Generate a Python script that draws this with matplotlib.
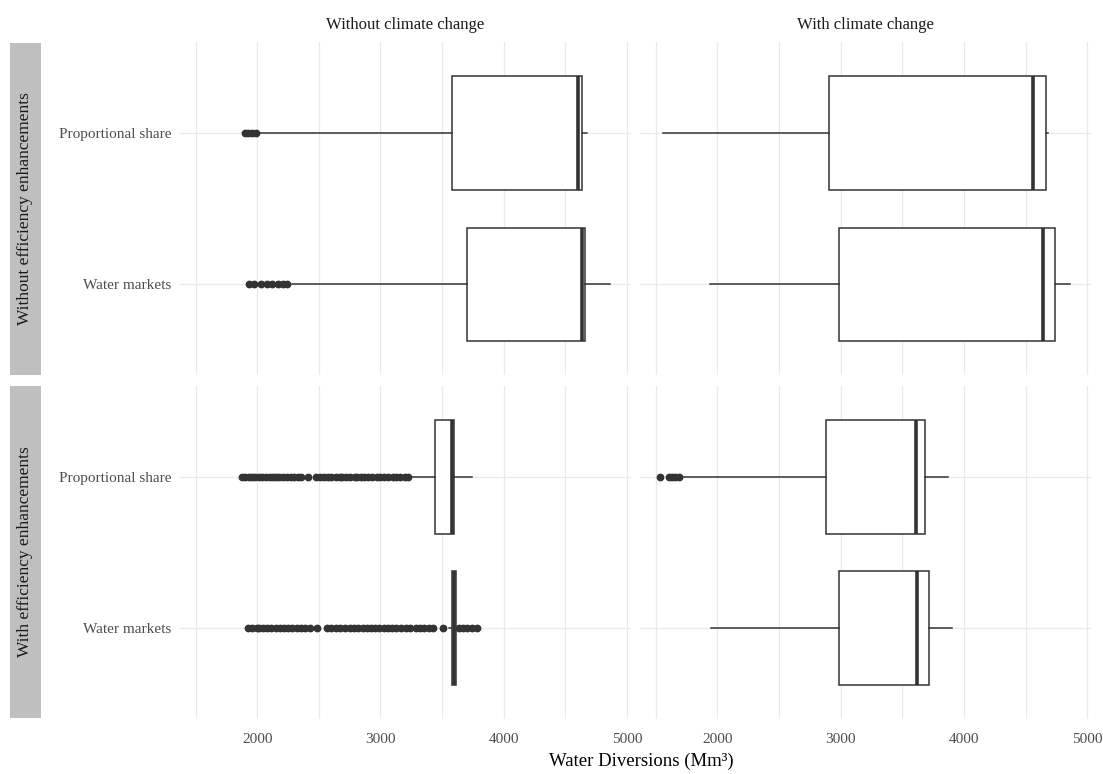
import matplotlib
matplotlib.use("Agg")
import matplotlib.pyplot as plt

plt.rcParams['font.family'] = ['Liberation Serif', 'DejaVu Serif']

W, H = 1103, 774

col_labels = ["Without climate change", "With climate change"]
row_labels = ["Without efficiency enhancements", "With efficiency enhancements"]
categories = ["Proportional share", "Water markets"]
x_major = [2000, 3000, 4000, 5000]
x_minor = [1500, 2500, 3500, 4500]

# Box statistics per panel (row, col); each list is [Proportional share, Water markets]
# Row 0 = without efficiency enhancements, row 1 = with; col 0 = without CC, col 1 = with CC
whisker_low = {(0, 0): [2010, 2280], (0, 1): [1557, 1941],
               (1, 0): [3240, 3560], (1, 1): [1700, 1946]}
q1 = {(0, 0): [3579, 3706], (0, 1): [2903, 2985],
      (1, 0): [3444, 3582], (1, 1): [2879, 2985]}
median = {(0, 0): [4603, 4638], (0, 1): [4563, 4644],
          (1, 0): [3583, 3597], (1, 1): [3614, 3622]}
q3 = {(0, 0): [4638, 4660], (0, 1): [4668, 4741],
      (1, 0): [3600, 3610], (1, 1): [3682, 3715]}
whisker_high = {(0, 0): [4680, 4863], (0, 1): [4685, 4861],
                (1, 0): [3741, 3630], (1, 1): [3873, 3906]}

# Outliers
out_noeff_nocc_prop = [1900, 1925, 1955, 1990]
out_noeff_nocc_mkt = [1930, 1975, 2030, 2075, 2120, 2165, 2210, 2245]
out_noeff_cc_prop = []
out_noeff_cc_mkt = []
out_eff_nocc_prop = [1875, 1900, 1930, 1960, 1985, 2010, 2040, 2070, 2100, 2125,
                     2150, 2180, 2210, 2240, 2270, 2300, 2330, 2355,
                     2410,
                     2480, 2510, 2540, 2570, 2600, 2635, 2670,
                     2690, 2720, 2750, 2790,
                     2810, 2840, 2870, 2900, 2935, 2970, 3000, 3030, 3065,
                     3100, 3130, 3160, 3195, 3225]
out_eff_nocc_mkt = [1925, 1960, 1995,
                    2015, 2045, 2080, 2110, 2150, 2185,
                    2215, 2250, 2285, 2320, 2355, 2390, 2430,
                    2484,
                    2565, 2600, 2635, 2670, 2710, 2750,
                    2785, 2820, 2855, 2890,
                    2920, 2955, 2990, 3025, 3060, 3095, 3130, 3170, 3205, 3240,
                    3285, 3320, 3355, 3390, 3430,
                    3511,
                    3635, 3670, 3705, 3745, 3780]
out_eff_cc_prop = [1535, 1605, 1630, 1660, 1690]
out_eff_cc_mkt = []

outliers = {(0, 0): [out_noeff_nocc_prop, out_noeff_nocc_mkt],
            (0, 1): [out_noeff_cc_prop, out_noeff_cc_mkt],
            (1, 0): [out_eff_nocc_prop, out_eff_nocc_mkt],
            (1, 1): [out_eff_cc_prop, out_eff_cc_mkt]}

# shared x range (ggplot-like 5% expansion)
all_vals = []
for k in whisker_low:
    all_vals += whisker_low[k] + whisker_high[k]
    for o in outliers[k]:
        all_vals += o
lo, hi = min(all_vals), max(all_vals)
pad = 0.05 * (hi - lo)
xlim = (lo - pad, hi + pad)

fig = plt.figure(figsize=(W / 100, H / 100), dpi=100)

col_px = [(179.5, 630.5), (639.5, 1090.8)]
row_px = [(42.3, 375.3), (386.0, 719.0)]

dark = '#333333'
grid_c = '#e9e9e9'
positions = [2, 1]

for r in range(2):
    for c in range(2):
        x0, x1 = col_px[c]
        y0, y1 = row_px[r]
        ax = fig.add_axes([x0 / W, 1 - y1 / H, (x1 - x0) / W, (y1 - y0) / H])
        key = (r, c)
        stats = []
        for i in range(2):
            stats.append(dict(whislo=whisker_low[key][i], q1=q1[key][i], med=median[key][i],
                              q3=q3[key][i], whishi=whisker_high[key][i],
                              fliers=outliers[key][i], label=categories[i]))
        ax.bxp(stats, positions=positions, widths=0.75, orientation='horizontal',
               showcaps=False, patch_artist=True, manage_ticks=False,
               boxprops=dict(facecolor='white', edgecolor=dark, linewidth=1.1),
               medianprops=dict(color=dark, linewidth=2.6, solid_capstyle='butt'),
               whiskerprops=dict(color=dark, linewidth=1.1),
               flierprops=dict(marker='o', markerfacecolor=dark, markeredgecolor=dark,
                               markersize=4.6, linestyle='none'),
               zorder=3)
        ax.set_xlim(*xlim)
        ax.set_ylim(0.4, 2.6)
        ax.set_xticks(x_major)
        ax.set_xticks(x_minor, minor=True)
        ax.set_yticks(positions)
        ax.grid(which='major', color=grid_c, linewidth=0.9, zorder=0)
        ax.grid(which='minor', axis='x', color=grid_c, linewidth=0.9, zorder=0)
        ax.set_axisbelow(True)
        for s in ax.spines.values():
            s.set_visible(False)
        ax.tick_params(which='both', length=0)
        ax.tick_params(axis='x', pad=10, labelsize=11, labelcolor='#4d4d4d')
        ax.tick_params(axis='y', pad=6, labelsize=11, labelcolor='#4d4d4d')
        if c == 0:
            ax.set_yticklabels(categories)
        else:
            ax.set_yticklabels([])
        if r == 1:
            ax.set_xticklabels([str(v) for v in x_major])
        else:
            ax.set_xticklabels([])

# column strips (top)
for c in range(2):
    x0, x1 = col_px[c]
    fig.text((x0 + x1) / 2 / W, 1 - 25 / H, col_labels[c], ha='center', va='center',
             fontsize=12, color='#1a1a1a')

# row strips (left, grey)
strip_rows = [(43, 375), (386, 718)]
for r in range(2):
    y0, y1 = strip_rows[r]
    sax = fig.add_axes([10 / W, 1 - y1 / H, 31 / W, (y1 - y0) / H])
    sax.set_facecolor('#bfbfbf')
    sax.set_xticks([])
    sax.set_yticks([])
    for s in sax.spines.values():
        s.set_visible(False)
    sax.text(0.5, 0.5, row_labels[r], rotation=90, ha='center', va='center',
             fontsize=12.5, color='#1a1a1a', transform=sax.transAxes)

fig.text(641 / W, 1 - 761 / H, "Water Diversions (Mm³)", ha='center', va='center',
         fontsize=13.5, color='#000000')

fig.savefig("out.png", dpi=100, facecolor='white')
